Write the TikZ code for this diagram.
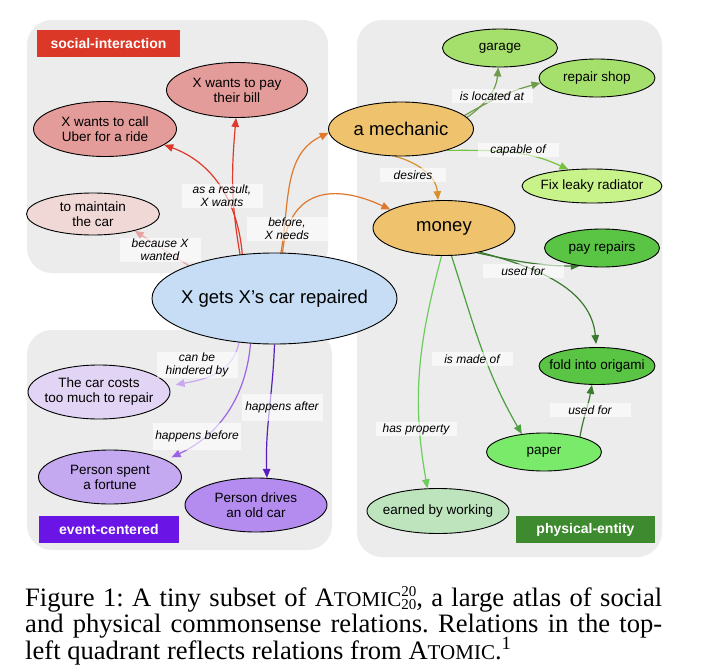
\documentclass[tikz,border=0pt]{standalone}
\usepackage{fontspec}
\setmainfont{Liberation Sans}
\newfontfamily\capfont{Liberation Serif}
\usetikzlibrary{shapes.geometric,arrows.meta}
\pgfdeclarelayer{bg}
\pgfdeclarelayer{edges}
\pgfsetlayers{bg,edges,main}
\definecolor{panelgray}{HTML}{ECECEC}
\definecolor{socred}{HTML}{DC3828}
\definecolor{evpurple}{HTML}{6A14E6}
\definecolor{phgreen}{HTML}{3E8A2E}
\definecolor{pinkA}{HTML}{E49C9A}
\definecolor{pinkB}{HTML}{F0D8D6}
\definecolor{blueN}{HTML}{C6DDF5}
\definecolor{orangeN}{HTML}{EFC26E}
\definecolor{greenA}{HTML}{A6E06C}
\definecolor{greenB}{HTML}{C8F28A}
\definecolor{greenC}{HTML}{5AC444}
\definecolor{greenD}{HTML}{7AEA6A}
\definecolor{greenE}{HTML}{BEE4BE}
\definecolor{lavA}{HTML}{E2D4F4}
\definecolor{lavB}{HTML}{C4A8F0}
\definecolor{lavC}{HTML}{B48CF0}
\definecolor{redE}{HTML}{E0382A}
\definecolor{pinkE}{HTML}{E8A4A4}
\definecolor{orangeE}{HTML}{E0782C}
\definecolor{desireE}{HTML}{D8902C}
\definecolor{oliveE}{HTML}{6E9C48}
\definecolor{capE}{HTML}{78C040}
\definecolor{darkgE}{HTML}{3A7A2E}
\definecolor{madeE}{HTML}{4CA040}
\definecolor{propE}{HTML}{6CCC5C}
\definecolor{purA}{HTML}{C8A8F0}
\definecolor{purB}{HTML}{9A64E4}
\definecolor{purC}{HTML}{5A1CC0}
\newcommand\atomicsc{A{\fontsize{21}{21}\selectfont TOMIC}}
\newcommand\twentytwenty{\raisebox{0.22ex}{\fontsize{15}{11.5}\selectfont\begin{tabular}[c]{@{}c@{}}20\\20\end{tabular}}}
\tikzset{
  ell/.style={ellipse, draw=black, line width=0.9pt, inner sep=0pt},
  ntxt/.style={font=\fontsize{13.5}{15}\selectfont, align=center, inner sep=0pt},
  btxt/.style={font=\fontsize{18.5}{20}\selectfont, align=center, inner sep=0pt},
  lbl/.style={fill=white, fill opacity=0.6, text opacity=1, font=\itshape\fontsize{12}{13}\selectfont, align=center, minimum width=81pt, minimum height=14pt, inner ysep=1pt, inner xsep=2pt},
  cat/.style={text=white, font=\bfseries\fontsize{14}{16}\selectfont, minimum height=27pt, inner sep=0pt},
  rel/.style={line width=1.2pt, -{Triangle[length=9pt,width=7.5pt]}},
  panel/.style={fill=panelgray, rounded corners=25pt},
  captxt/.style={anchor=base west, inner sep=0pt, font=\capfont\fontsize{26.6}{26.6}\selectfont\frenchspacing}
}
\begin{document}
\begin{tikzpicture}[x=1pt,y=1pt]
\useasboundingbox (0,0) rectangle (702,-672);
\begin{pgfonlayer}{bg}
\fill[white] (0,0) rectangle (702,-672);
\fill[panel] (27,-20) rectangle (328,-273);
\fill[panel] (357,-20) rectangle (662,-557);
\fill[panel] (27,-330) rectangle (332,-550);
\end{pgfonlayer}

% category labels
\node[cat, fill=socred, minimum width=143pt] (si) at (108.5,-43.5) {social-interaction};
\node[cat, fill=evpurple, minimum width=140pt] (ec) at (109,-529.5) {event-centered};
\node[cat, fill=phgreen, minimum width=139pt] (pe) at (585.5,-529.5) {physical-entity};

% nodes
\node[ell, fill=pinkA, minimum width=141pt, minimum height=55pt, label={[ntxt]center:X wants to pay\\their bill}] (paybill) at (237,-90) {};
\node[ell, fill=pinkA, minimum width=143pt, minimum height=55pt, label={[ntxt]center:X wants to call\\Uber for a ride}] (uber) at (105,-129) {};
\node[ell, fill=pinkB, minimum width=133pt, minimum height=42pt, label={[ntxt]center:to maintain\\the car}] (maintain) at (93,-214) {};
\node[ell, fill=blueN, minimum width=245pt, minimum height=91pt, label={[btxt]center:X gets X’s car repaired}] (xg) at (274.5,-298.5) {};
\node[ell, fill=orangeN, minimum width=145pt, minimum height=54pt, label={[btxt]center:a mechanic}] (mech) at (401,-129) {};
\node[ell, fill=orangeN, minimum width=142pt, minimum height=55pt, label={[btxt]center:money}] (money) at (444,-228) {};
\node[ell, fill=greenA, minimum width=115pt, minimum height=38pt, label={[ntxt]center:garage}] (garage) at (500,-48) {};
\node[ell, fill=greenA, minimum width=116pt, minimum height=38pt, label={[ntxt]center:repair shop}] (shop) at (597,-78) {};
\node[ell, fill=greenB, minimum width=140pt, minimum height=34pt, label={[ntxt]center:Fix leaky radiator}] (leaky) at (592,-186) {};
\node[ell, fill=greenC, minimum width=115pt, minimum height=38pt, label={[ntxt]center:pay repairs}] (pay) at (602,-248) {};
\node[ell, fill=greenC, minimum width=116pt, minimum height=37pt, label={[ntxt]center:fold into origami}] (origami) at (597,-366) {};
\node[ell, fill=greenD, minimum width=115pt, minimum height=38pt, label={[ntxt]center:paper}] (paper) at (544,-452) {};
\node[ell, fill=greenE, minimum width=142pt, minimum height=45pt, label={[ntxt]center:earned by working}] (earned) at (438,-511) {};
\node[ell, fill=lavA, minimum width=142pt, minimum height=54pt, label={[ntxt]center:The car costs\\too much to repair}] (costs) at (99,-392) {};
\node[ell, fill=lavB, minimum width=143pt, minimum height=54pt, label={[ntxt]center:Person spent\\a fortune}] (spent) at (110,-477) {};
\node[ell, fill=lavC, minimum width=142pt, minimum height=54pt, label={[ntxt]center:Person drives\\an old car}] (drives) at (256,-505) {};

% edges
\begin{pgfonlayer}{edges}
\draw[rel, redE] (xg.128) to[out=100,in=265] (paybill.268);
\draw[rel, redE] (xg.126) to[out=95,in=340] (uber.-15);
\draw[rel, pinkE] (xg.159) -- (maintain.-22);
\draw[rel, orangeE] (xg.82) to[out=80,in=205] (mech.183);
\draw[rel, orangeE] (xg.80) to[out=85,in=155,looseness=1.4] (money.161);
\draw[rel, desireE] (mech.258) to[out=-15,in=95] (money.102);
\draw[rel, oliveE] (mech.10) to[out=35,in=265] (garage.265);
\draw[rel, oliveE] (mech.12) to[out=30,in=195] (shop.185);
\draw[rel, capE] (mech.-25) to[out=0,in=155] (leaky.145);
\draw[rel, darkgE] (money.-37) to[out=-12,in=180] (pay.219);
\draw[rel, darkgE, shorten >=3pt] (money.-34) to[out=-15,in=95] (origami.92);
\draw[rel, madeE] (money.-75) to[out=-72,in=120] (paper.141);
\draw[rel, propE] (money.-95) to[out=-105,in=100] (earned.115);
\draw[rel, darkgE] (paper.23) to[out=80,in=-100] (origami.255);
\draw[rel, purA, shorten >=7pt] (xg.231) to[out=260,in=10] (costs.5);
\draw[rel, purB, shorten >=6pt] (xg.242) to[out=265,in=25] (spent.17);
\draw[rel, purC] (xg.270) to[out=268,in=92] (drives.68);
\end{pgfonlayer}

% edge labels
\node[lbl] (lasres) at (222,-196) {as a result,\\X wants};
\node[lbl] (lbefore) at (287,-229) {before,\\X needs};
\node[lbl] (lbecause) at (160,-250) {because X\\wanted};
\node[lbl] (lloc) at (492,-96) {is located at};
\node[lbl] (lcap) at (518,-150) {capable of};
\node[lbl, minimum width=66pt] (ldes) at (413,-175) {desires};
\node[lbl] (lused1) at (523,-271) {used for};
\node[lbl] (lmade) at (472,-359) {is made of};
\node[lbl] (lprop) at (416,-429) {has property};
\node[lbl] (lused2) at (590,-410) {used for};
\node[lbl] (lhind) at (197,-365) {can be\\hindered by};
\node[lbl, minimum height=27pt] (lhbef) at (197,-436) {happens before};
\node[lbl, minimum height=27pt] (lhaft) at (282,-407) {happens after};

% caption
\node[captxt] (cap1) at (25,-606) {\makebox[637pt][s]{Figure 1: A tiny subset of \atomicsc\twentytwenty, a large atlas of social}};
\node[captxt] (cap2) at (25,-632.5) {\makebox[637pt][s]{and physical commonsense relations. Relations in the top-}};
\node[captxt] (cap3) at (25,-659) {left quadrant reflects relations from \atomicsc.\textsuperscript{1}};
\end{tikzpicture}
\end{document}
